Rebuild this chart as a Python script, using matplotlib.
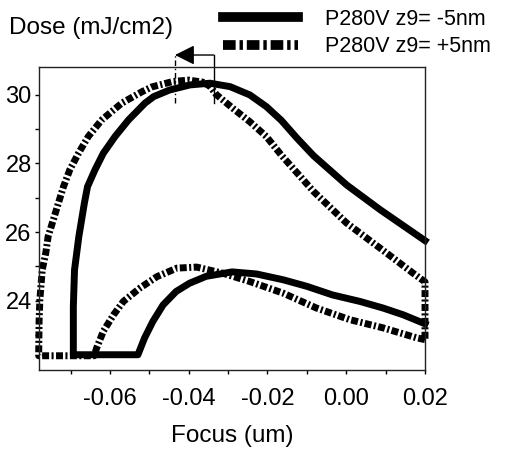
import matplotlib
matplotlib.use("Agg")
import matplotlib.pyplot as plt
from matplotlib.lines import Line2D

plt.rcParams['font.family'] = ['Liberation Sans', 'DejaVu Sans']

# z9 = -5nm: lower branch (right to left), flat floor, outer branch (left to right)
focus_m5 = [0.0200, 0.0145, 0.0093, 0.0035, -0.0035, -0.0100, -0.0160, -0.0228, -0.0290,
            -0.0356, -0.0398, -0.0432, -0.0465, -0.0491, -0.0512, -0.0529,
            -0.0693,
            -0.0693, -0.0690, -0.0679, -0.0665, -0.0657, -0.0638, -0.0617, -0.0587,
            -0.0553, -0.0511, -0.0489, -0.0449, -0.0397, -0.0346, -0.0295, -0.0245,
            -0.0203, -0.0165, -0.0125, -0.0083, 0.0001, 0.0086, 0.0200]
dose_m5 = [23.33, 23.59, 23.79, 23.98, 24.17, 24.42, 24.61, 24.78, 24.84,
           24.71, 24.51, 24.27, 23.88, 23.40, 22.92, 22.43,
           22.43,
           23.83, 24.90, 25.87, 26.84, 27.32, 27.81, 28.29, 28.78,
           29.26, 29.75, 29.94, 30.13, 30.28, 30.33, 30.23, 29.99,
           29.65, 29.25, 28.73, 28.22, 27.37, 26.65, 25.75]

# z9 = +5nm: closed loop, lower branch (right to left), floor, outer branch, right edge
focus_p5 = [0.0200, 0.0179, 0.0094, 0.0009, -0.0076, -0.0160, -0.0245, -0.0313,
            -0.0380, -0.0430, -0.0481, -0.0524, -0.0566, -0.0591, -0.0617, -0.0634,
            -0.0640,
            -0.0781,
            -0.0780, -0.0778, -0.0772, -0.0763, -0.0757, -0.0744, -0.0731, -0.0718,
            -0.0702, -0.0680, -0.0655, -0.0621, -0.0570, -0.0519, -0.0494, -0.0440,
            -0.0400, -0.0364, -0.0346, -0.0330, -0.0288, -0.0245, -0.0203, -0.0165,
            -0.0083, 0.0001, 0.0086, 0.0170, 0.0200,
            0.0200]
dose_p5 = [22.87, 22.92, 23.21, 23.45, 23.79, 24.22, 24.56, 24.80,
           24.98, 24.95, 24.70, 24.37, 23.98, 23.59, 23.11, 22.62,
           22.40,
           22.40,
           23.40, 24.03, 24.90, 25.39, 25.87, 26.35, 26.84, 27.32,
           27.81, 28.29, 28.78, 29.26, 29.75, 30.08, 30.22, 30.38,
           30.42, 30.36, 30.24, 30.00, 29.60, 29.21, 28.78, 28.24,
           27.18, 26.26, 25.53, 24.80, 24.55,
           22.87]

# best-focus shift marker
peak_m5 = -0.0337
peak_p5 = -0.0435

fig = plt.figure(figsize=(5.05, 4.53), dpi=100)
ax = fig.add_axes([0.0766, 0.1843, 0.765, 0.6677])

ax.plot(focus_m5, dose_m5, color='black', lw=5, solid_joinstyle='round',
        clip_on=False)
ln, = ax.plot(focus_p5, dose_p5, color='black', lw=5, clip_on=False)
ln.set_dashes([1.0, 0.35, 0.3, 0.35])

ax.plot([peak_p5, peak_p5], [29.76, 31.15], color='black', lw=1,
        ls=(0, (4, 2, 1, 2)), clip_on=False)
ax.plot([peak_m5, peak_m5], [29.76, 31.15], color='black', lw=1, clip_on=False)
ax.annotate('', xy=(peak_p5, 31.15), xytext=(peak_m5, 31.15),
            annotation_clip=False,
            arrowprops=dict(arrowstyle='-|>,head_length=0.6,head_width=0.3',
                            color='black', lw=1, mutation_scale=20,
                            shrinkA=0, shrinkB=0))

ax.set_xlim(-0.0781, 0.02)
ax.set_ylim(22.0, 30.8)
ax.set_xticks([-0.06, -0.04, -0.02, 0.00, 0.02])
ax.set_xticklabels(['-0.06', '-0.04', '-0.02', '0.00', '0.02'])
ax.set_xticks([-0.07, -0.05, -0.03, -0.01, 0.01], minor=True)
ax.set_yticks([24, 26, 28, 30])
ax.set_yticks([23, 25, 27, 29], minor=True)
ax.tick_params(which='both', direction='out', length=3, width=1, labelsize=17)
ax.tick_params(axis='x', pad=10)
ax.tick_params(axis='y', pad=2)
for s in ax.spines.values():
    s.set_linewidth(1)
    s.set_color('#222222')

ax.set_xlabel('Focus (um)', fontsize=17.5, labelpad=11)
fig.text(9 / 505, 1 - 28 / 453, 'Dose (mJ/cm2)', fontsize=17.5, va='center')

handles = [Line2D([], [], color='black', lw=7),
           Line2D([], [], color='black', lw=7, dashes=[1.3, 0.4, 0.35, 0.4])]
fig.legend(handles, ['P280V z9= -5nm', 'P280V z9= +5nm'], loc='upper left',
           bbox_to_anchor=(223 / 505, 1 - 9 / 453), frameon=False, fontsize=15.5,
           handlelength=3.5, handletextpad=1.25, labelspacing=0.3,
           borderpad=0, borderaxespad=0)

fig.savefig('out.png', dpi=100)
